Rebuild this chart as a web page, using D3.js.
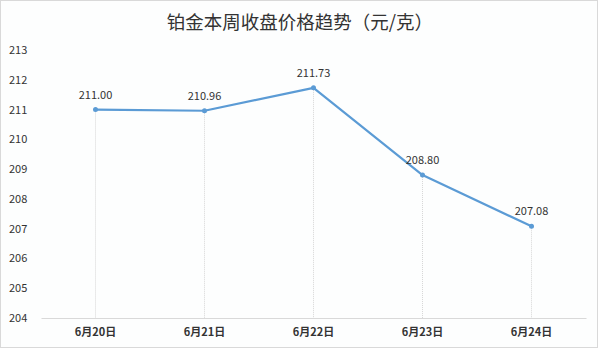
<!DOCTYPE html>
<html><head><meta charset="utf-8">
<script src="https://cdn.jsdelivr.net/npm/d3@7"></script>
<style>
html,body{margin:0;padding:0;background:#fff;}
svg{display:block;}
</style></head>
<body>
<svg id="c" width="600" height="350"></svg>
<script>
const categories = ["6月20日","6月21日","6月22日","6月23日","6月24日"];
const prices = [211.00, 210.96, 211.73, 208.80, 207.08];
const yTicks = [204,205,206,207,208,209,210,211,212,213];
const title = "铂金本周收盘价格趋势（元/克）";

(function(){
const svg = d3.select("#c");
const W = 600, H = 350;
svg.append("rect").attr("x",0.5).attr("y",0.5).attr("width",W-3).attr("height",H-3)
  .attr("fill","#fdfefe").attr("stroke","#d9d9d9");

const pl = 41, pr = 586, pt = 50, pb = 318;
const x = d3.scaleBand().domain(categories).range([pl,pr]);
const y = d3.scaleLinear().domain([204,213]).range([pb,pt]);
const font = "'Microsoft YaHei','Noto Sans CJK SC','DejaVu Sans',sans-serif";

svg.append("text").attr("x",300).attr("y",29).attr("text-anchor","middle")
  .attr("font-family",font).attr("font-size",18.5).attr("fill","#333").text(title);

// y axis labels
const ya = svg.append("g").attr("transform",`translate(9,0)`)
  .call(d3.axisLeft(y).tickValues(yTicks).tickSize(0).tickPadding(0).tickFormat(d3.format("d")));
ya.select(".domain").remove();
ya.selectAll("text").attr("text-anchor","start").attr("x",0)
  .attr("font-family",font).attr("font-size",11).attr("fill","#333");

// drop lines
const cx = d => x(d) + x.bandwidth()/2;
svg.append("g").selectAll("line").data(categories).join("line")
  .attr("x1",cx).attr("x2",cx).attr("y1",(d,i)=>y(prices[i])).attr("y2",pb)
  .attr("stroke","#d6d6d6").attr("stroke-width",1).attr("stroke-dasharray","1,1");

// x axis
const xa = svg.append("g").attr("transform",`translate(0,${pb})`)
  .call(d3.axisBottom(x).tickSize(0).tickPadding(10));
xa.select(".domain").attr("stroke","#d9d9d9");
xa.selectAll("text").attr("font-family",font).attr("font-size",11).attr("fill","#333").attr("font-weight","600");

const line = d3.line().x((d,i)=>cx(categories[i])).y(d=>y(d));
svg.append("path").datum(prices).attr("d",line).attr("fill","none")
  .attr("stroke","#5b9bd5").attr("stroke-width",2.2).attr("stroke-linejoin","round");

svg.append("g").selectAll("circle").data(prices).join("circle")
  .attr("cx",(d,i)=>cx(categories[i])).attr("cy",d=>y(d)).attr("r",2.5).attr("fill","#5b9bd5");

svg.append("g").selectAll("text").data(prices).join("text")
  .attr("x",(d,i)=>cx(categories[i])).attr("y",d=>y(d)-11)
  .attr("text-anchor","middle").attr("font-family",font).attr("font-size",11).attr("fill","#333")
  .text(d=>d3.format(".2f")(d));
})();
</script>
</body></html>
